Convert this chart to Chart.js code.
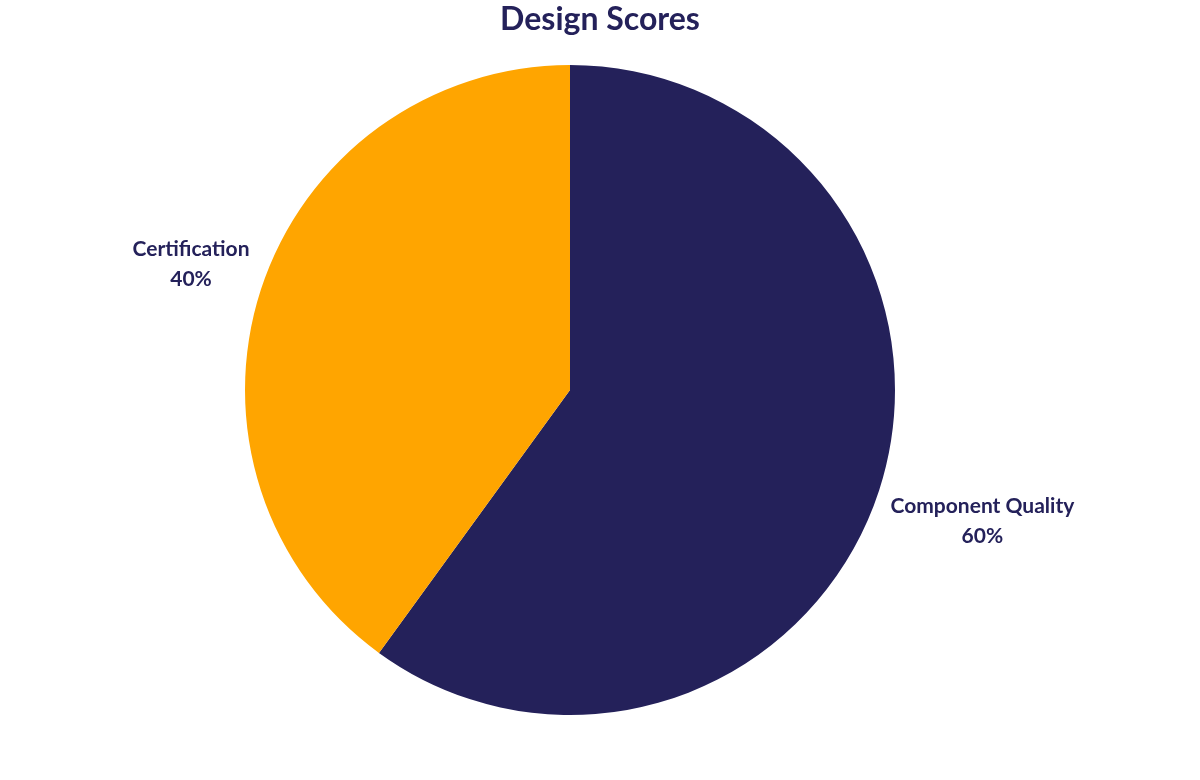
<!DOCTYPE html>
<html>
<head>
<meta charset="utf-8">
<title>Design Scores</title>
<script src="https://cdn.jsdelivr.net/npm/chart.js@4.4.1/dist/chart.umd.min.js"></script>
<style>
  html, body { margin: 0; padding: 0; background: #fff; }
  #wrap { width: 1200px; height: 780px; }
</style>
</head>
<body>
<div id="wrap"><canvas id="designPie"></canvas></div>
<script>
const labels = ["Component Quality", "Certification"];
const values = [60, 40];
const colors = ["#24215a", "#ffa500"];
const textColor = "#24215a";
const chartTitle = "Design Scores";

// title centred on the whole canvas, plus "name / pct%" outside each slice
const outsideLabels = {
  id: "outsideLabels",
  afterDatasetsDraw(chart) {
    const ctx = chart.ctx;
    const meta = chart.getDatasetMeta(0);
    const total = values.reduce((s, v) => s + v, 0);
    ctx.save();
    ctx.fillStyle = textColor;
    ctx.textAlign = "center";
    ctx.textBaseline = "middle";
    ctx.font = "bold 32px Lato";
    ctx.fillText(chartTitle, chart.width / 2, 20);

    ctx.font = "bold 21px Lato";
    meta.data.forEach((arc, i) => {
      const p = arc.getProps(["x", "y", "startAngle", "endAngle", "outerRadius"], true);
      const mid = (p.startAngle + p.endAngle) / 2;
      const dx = Math.cos(mid), dy = Math.sin(mid);
      const ax = p.x + dx * (p.outerRadius + 12);
      const ay = p.y + dy * (p.outerRadius + 12);
      const pct = Math.round(values[i] / total * 100) + "%";
      const halfW = ctx.measureText(labels[i]).width / 2;
      const cx = ax + Math.sign(dx) * halfW;
      const cy = ay + Math.sign(dy) * 24.5 + 3;
      ctx.fillText(labels[i], cx, cy - 15);
      ctx.fillText(pct, cx, cy + 15);
    });
    ctx.restore();
  }
};

new Chart(document.getElementById("designPie").getContext("2d"), {
  type: "pie",
  data: {
    labels: labels,
    datasets: [{
      data: values,
      backgroundColor: colors,
      borderWidth: 0
    }]
  },
  options: {
    responsive: true,
    maintainAspectRatio: false,
    animation: false,
    layout: { padding: { left: 0, right: 60, top: 65, bottom: 65 } },
    plugins: {
      legend: { display: false },
      tooltip: { enabled: false },
      title: { display: false }
    }
  },
  plugins: [outsideLabels]
});
</script>
</body>
</html>
